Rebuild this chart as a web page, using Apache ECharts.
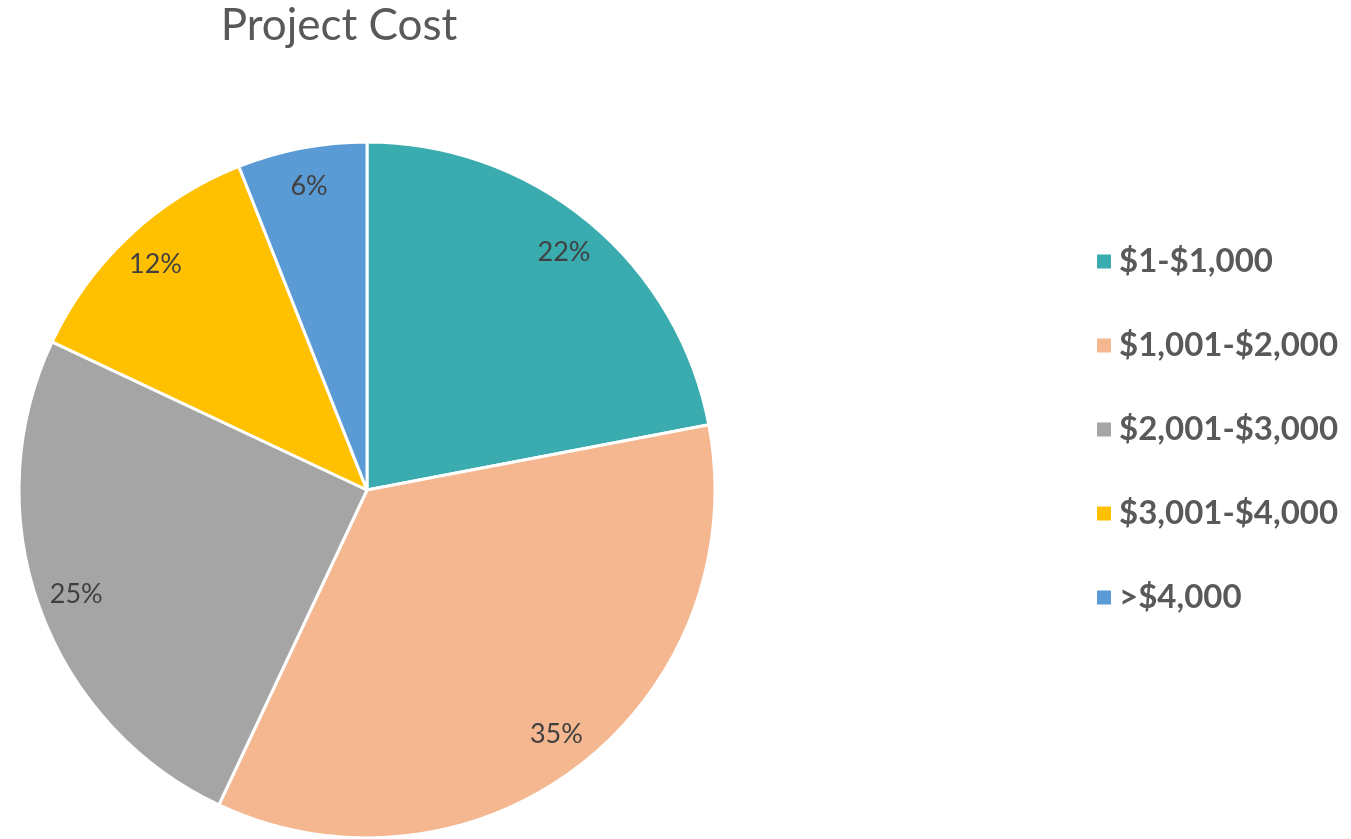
<!DOCTYPE html>
<html>
<head>
<meta charset="utf-8">
<script src="https://cdn.jsdelivr.net/npm/echarts@6/dist/echarts.min.js"></script>
<style>
  html, body { margin: 0; padding: 0; background: #fff; }
  #chart { width: 1351px; height: 839px; }
</style>
</head>
<body>
<div id="chart"></div>
<script>
const categories = ['$1-$1,000', '$1,001-$2,000', '$2,001-$3,000', '$3,001-$4,000', '>$4,000']
const shares = [22, 35, 25, 12, 6]
const colors = ['#3AABAE', '#F4B78F', '#A5A5A5', '#FFC000', '#5B9BD5']

const chart = echarts.init(document.getElementById('chart'))
const pieData = categories.map((name, i) => ({
  name: name,
  value: shares[i],
  itemStyle: { color: colors[i] }
}))

chart.setOption({
  animation: false,
  title: {
    text: 'Project Cost',
    left: 334,
    top: -1,
    textAlign: 'center',
    textStyle: {
      fontFamily: 'Lato',
      fontSize: 44,
      fontWeight: 'normal',
      color: '#595959'
    }
  },
  legend: {
    orient: 'vertical',
    left: 1090,
    top: 240,
    itemWidth: 16,
    itemHeight: 16,
    itemGap: 51,
    icon: 'rect',
    data: categories,
    textStyle: {
      fontFamily: 'Lato',
      fontSize: 33,
      fontWeight: 'bold',
      color: '#595959',
      padding: [0, 0, 0, 2]
    }
  },
  series: [
    {
      type: 'pie',
      center: [367, 490],
      radius: [0, 348],
      startAngle: 90,
      clockwise: true,
      itemStyle: { borderColor: '#fff', borderWidth: 3 },
      label: { show: false },
      labelLine: { show: false },
      data: pieData
    },
    {
      // transparent ring only for placing percentage labels
      type: 'pie',
      silent: true,
      center: [367, 490],
      radius: [264, 348],
      startAngle: 90,
      clockwise: true,
      legendHoverLink: false,
      itemStyle: { color: 'transparent' },
      label: {
        show: true,
        position: 'inside',
        formatter: '{c}%',
        fontFamily: 'Lato',
        fontSize: 27,
        color: '#404040'
      },
      labelLine: { show: false },
      data: categories.map((name, i) => ({ name: name + ' ', value: shares[i] }))
    }
  ]
})
</script>
</body>
</html>
